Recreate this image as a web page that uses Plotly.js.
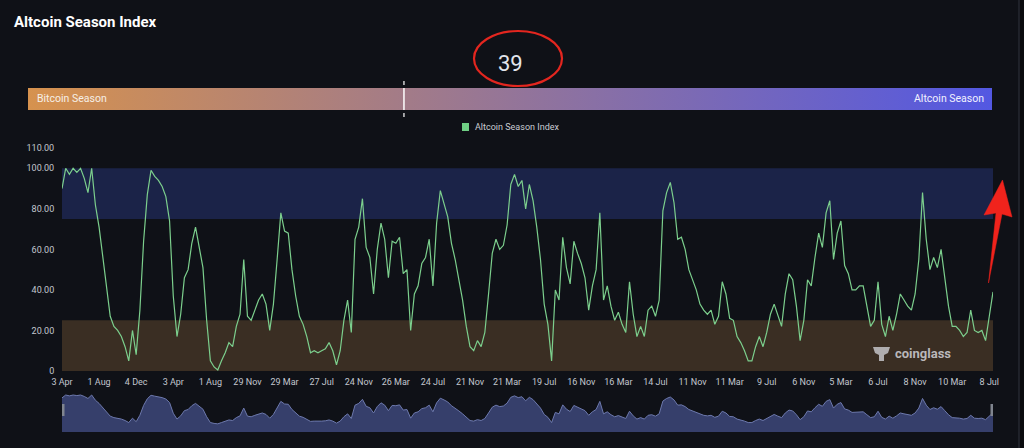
<!DOCTYPE html>
<html>
<head>
<meta charset="utf-8">
<script src="https://cdn.plot.ly/plotly-3.0.1.min.js"></script>
<style>
html,body{margin:0;padding:0;background:#0f1117;}
#chart{width:1024px;height:448px;}
</style>
</head>
<body>
<div id="chart"></div>
<script>
// ---------------- DATA ----------------
const chartTitle = 'Altcoin Season Index';
const seriesName = 'Altcoin Season Index';
const currentIndex = 39;
const leftLabel = 'Bitcoin Season';
const rightLabel = 'Altcoin Season';

// x tick labels (one every 10 samples)
const xTickLabels = ['3 Apr','1 Aug','4 Dec','3 Apr','1 Aug','29 Nov','29 Mar','27 Jul','24 Nov','26 Mar',
  '24 Jul','21 Nov','21 Mar','19 Jul','16 Nov','16 Mar','14 Jul','11 Nov','11 Mar','9 Jul',
  '6 Nov','5 Mar','6 Jul','8 Nov','10 Mar','8 Jul'];
const yTickVals = [0, 20, 40, 60, 80, 100, 110];
const yTickText = ['0', '20.00', '40.00', '60.00', '80.00', '100.00', '110.00'];

const seasonIndex = [
  90,100,97,100,98,100,95,88,100,82,
  71,56,42,27,22,20,17,12,5,20,
  8,30,64,87,99,96,94,91,86,74,
  37,17,28,46,50,63,71,61,51,25,
  5,2,0.5,5,9,14,12,22,28,55,
  27,25,30,35,38,33,20,33,55,78,
  69,68,50,37,27,23,17,9,10,9,
  10,11,14,10,3,10,25,35,19,65,
  71,85,61,56,38,60,73,65,46,64,
  63,66,48,50,20,38,42,53,56,65,
  42,73,89,83,76,63,55,45,35,22,
  12,10,15,12,19,38,58,65,60,62,
  72,92,97,91,94,80,92,84,71,55,
  33,23,5,40,35,66,51,43,64,58,
  53,46,30,42,50,78,35,42,32,25,
  29,23,19,44,28,17,22,17,30,32,
  27,35,79,88,93,83,65,66,60,50,
  45,40,33,30,28,30,23,27,44,38,
  26,25,17,14,10,5,5,12,17,12,
  19,28,33,27,22,38,48,45,32,15,
  25,45,42,56,68,61,78,84,55,68,
  74,52,48,40,40,42,42,32,22,25,
  44,23,17,27,20,28,38,35,32,30,
  38,55,88,65,50,56,51,60,46,32,
  22,22,20,17,19,30,20,19,20,15,
  27,39
];
const blueBand = [75, 100];
const brownBand = [0, 25];

// ---------------- BUILD ----------------
const W = 1024, H = 448;
const px = x => x / W;
const py = y => 1 - y / H;

const idx = seasonIndex.map((_, i) => i);
const xTickVals = xTickLabels.map((_, k) => k * 10);
const xMax = seasonIndex.length - 1;

const FONT = 'Roboto, "Noto Sans", sans-serif';
const tickColor = '#c3c7cf';

const traces = [
  { // gradient bar
    type: 'scatter', mode: 'lines', xaxis: 'x3', yaxis: 'y3',
    x: [0, 100, 100, 0, 0], y: [0, 0, 1, 1, 0],
    fill: 'toself', line: { width: 0, color: 'rgba(0,0,0,0)' },
    fillcolor: '#a07e8e',
    fillgradient: { type: 'horizontal', colorscale: [[0, 'rgb(214,146,78)'], [1, 'rgb(83,88,226)']] },
    hoverinfo: 'skip', showlegend: false
  },
  { // main line
    type: 'scatter', mode: 'lines', name: seriesName,
    x: idx, y: seasonIndex, xaxis: 'x', yaxis: 'y',
    line: { color: '#7ccf8d', width: 1.2 },
    hoverinfo: 'skip', showlegend: false
  },
  { // navigator area
    type: 'scatter', mode: 'lines',
    x: idx, y: seasonIndex, xaxis: 'x2', yaxis: 'y2',
    fill: 'tozeroy', fillcolor: '#363f6b',
    line: { color: '#6d79ad', width: 1 },
    hoverinfo: 'skip', showlegend: false
  }
];

const shapes = [
  // right edge strip
  { type: 'rect', xref: 'paper', yref: 'paper', x0: px(1019), x1: 1, y0: 0, y1: 1,
    fillcolor: '#0a0b0e', line: { width: 0 }, layer: 'below' },
  { type: 'line', xref: 'paper', yref: 'paper', x0: px(1019), x1: px(1019), y0: 0, y1: 1,
    line: { color: '#262932', width: 1.5 }, layer: 'below' },
  // bands
  { type: 'rect', xref: 'x domain', yref: 'y', x0: 0, x1: 1, y0: blueBand[0], y1: blueBand[1],
    fillcolor: '#1b2348', line: { width: 0 }, layer: 'below' },
  { type: 'rect', xref: 'x domain', yref: 'y', x0: 0, x1: 1, y0: brownBand[0], y1: brownBand[1],
    fillcolor: '#3a2e23', line: { width: 0 }, layer: 'below' },
  // navigator baseline fill below zero
  { type: 'rect', xref: 'x2', yref: 'y2', x0: 0, x1: xMax, y0: -27.6, y1: 0,
    fillcolor: '#363f6b', line: { width: 0 }, layer: 'below' },
  // navigator handles
  { type: 'rect', xref: 'x2', yref: 'paper', x0: 0, x1: 0, y0: py(416), y1: py(404),
    fillcolor: '#80858f', line: { color: '#80858f', width: 5 } },
  { type: 'rect', xref: 'x2', yref: 'paper', x0: xMax, x1: xMax, y0: py(416), y1: py(404),
    fillcolor: '#80858f', line: { color: '#80858f', width: 5 } },
  // current value marker on gradient bar
  { type: 'line', xref: 'x3', yref: 'paper', x0: currentIndex, x1: currentIndex, y0: py(110), y1: py(88),
    line: { color: '#ffffff', width: 1.5 } },
  { type: 'line', xref: 'x3', yref: 'paper', x0: currentIndex, x1: currentIndex, y0: py(85), y1: py(81),
    line: { color: '#ffffff', width: 1.2 } },
  { type: 'line', xref: 'x3', yref: 'paper', x0: currentIndex, x1: currentIndex, y0: py(117), y1: py(113),
    line: { color: '#ffffff', width: 1.2 } },
  // red ellipse around the value
  { type: 'circle', xref: 'paper', yref: 'paper', x0: px(474), x1: px(562), y0: py(86), y1: py(31),
    line: { color: '#e3261f', width: 2.2 }, fillcolor: 'rgba(0,0,0,0)' },
  // legend swatch
  { type: 'rect', xref: 'paper', yref: 'paper', x0: px(462), x1: px(469), y0: py(131), y1: py(123),
    fillcolor: '#6fcf84', line: { width: 0 } },
  // red arrow
  { type: 'path', xref: 'paper', yref: 'paper',
    path: 'M ' + px(1002.5) + ',' + py(180) + ' L ' + px(1012) + ',' + py(217) +
          ' L ' + px(1002) + ',' + py(214) + ' L ' + px(988.5) + ',' + py(283) +
          ' L ' + px(996) + ',' + py(213) + ' L ' + px(984) + ',' + py(215) + ' Z',
    fillcolor: '#f0231c', line: { color: '#f0231c', width: 0.5 } },
  // coinglass logo (simplified)
  { type: 'path', xref: 'paper', yref: 'paper',
    path: 'M ' + px(873) + ',' + py(347) + ' L ' + px(890) + ',' + py(347) + ' L ' + px(888) + ',' + py(353) +
          ' L ' + px(884) + ',' + py(355) + ' L ' + px(884) + ',' + py(361) + ' L ' + px(879) + ',' + py(361) +
          ' L ' + px(879) + ',' + py(355) + ' L ' + px(875) + ',' + py(353) + ' Z',
    fillcolor: 'rgba(205,205,210,0.8)', line: { width: 0 } }
];

const annotations = [
  { text: '<b>' + chartTitle + '</b>', xref: 'paper', yref: 'paper', x: px(12), y: py(22),
    xanchor: 'left', yanchor: 'middle', showarrow: false, font: { family: FONT, size: 15, color: '#ffffff' } },
  { text: String(currentIndex), xref: 'paper', yref: 'paper', x: px(510), y: py(64),
    xanchor: 'center', yanchor: 'middle', showarrow: false, font: { family: FONT, size: 22, color: '#e2e5ec' } },
  { text: leftLabel, xref: 'paper', yref: 'paper', x: px(35), y: py(99),
    xanchor: 'left', yanchor: 'middle', showarrow: false, font: { family: FONT, size: 10.5, color: '#f6efe6' } },
  { text: rightLabel, xref: 'paper', yref: 'paper', x: px(986), y: py(99),
    xanchor: 'right', yanchor: 'middle', showarrow: false, font: { family: FONT, size: 10.5, color: '#f2f2ff' } },
  { text: seriesName, xref: 'paper', yref: 'paper', x: px(473), y: py(127),
    xanchor: 'left', yanchor: 'middle', showarrow: false, font: { family: FONT, size: 9, color: '#c9ccd3' } },
  { text: '<b>coinglass</b>', xref: 'paper', yref: 'paper', x: px(893), y: py(353),
    xanchor: 'left', yanchor: 'middle', showarrow: false, font: { family: FONT, size: 13, color: 'rgba(210,210,215,0.85)' } }
];

const layout = {
  width: W, height: H,
  margin: { l: 0, r: 0, t: 0, b: 0, pad: 0 },
  paper_bgcolor: '#0f1117', plot_bgcolor: 'rgba(0,0,0,0)',
  showlegend: false, hovermode: false,
  font: { family: FONT, color: tickColor },
  xaxis: {
    domain: [px(62), px(993)], range: [0, xMax], anchor: 'y',
    tickmode: 'array', tickvals: xTickVals, ticktext: xTickLabels,
    tickfont: { family: FONT, size: 9, color: tickColor },
    showgrid: false, zeroline: false, showline: false,
    ticks: 'outside', ticklen: 2, tickcolor: 'rgba(0,0,0,0)', fixedrange: true
  },
  yaxis: {
    domain: [py(371), py(148)], range: [0, 110], anchor: 'x',
    tickmode: 'array', tickvals: yTickVals, ticktext: yTickText,
    tickfont: { family: FONT, size: 9, color: tickColor },
    showgrid: false, zeroline: false, showline: false,
    ticks: 'outside', ticklen: 5, tickcolor: 'rgba(0,0,0,0)', fixedrange: true
  },
  xaxis2: {
    domain: [px(62), px(993)], range: [0, xMax], anchor: 'y2',
    visible: false, fixedrange: true
  },
  yaxis2: {
    domain: [py(432), py(393)], range: [-27.6, 106.9], anchor: 'x2',
    visible: false, fixedrange: true
  },
  xaxis3: {
    domain: [px(28), px(992)], range: [0, 100], anchor: 'y3',
    visible: false, fixedrange: true
  },
  yaxis3: {
    domain: [py(110), py(88)], range: [0, 1], anchor: 'x3',
    visible: false, fixedrange: true
  },
  shapes: shapes,
  annotations: annotations
};

Plotly.newPlot('chart', traces, layout, { displayModeBar: false, staticPlot: true });
</script>
</body>
</html>
